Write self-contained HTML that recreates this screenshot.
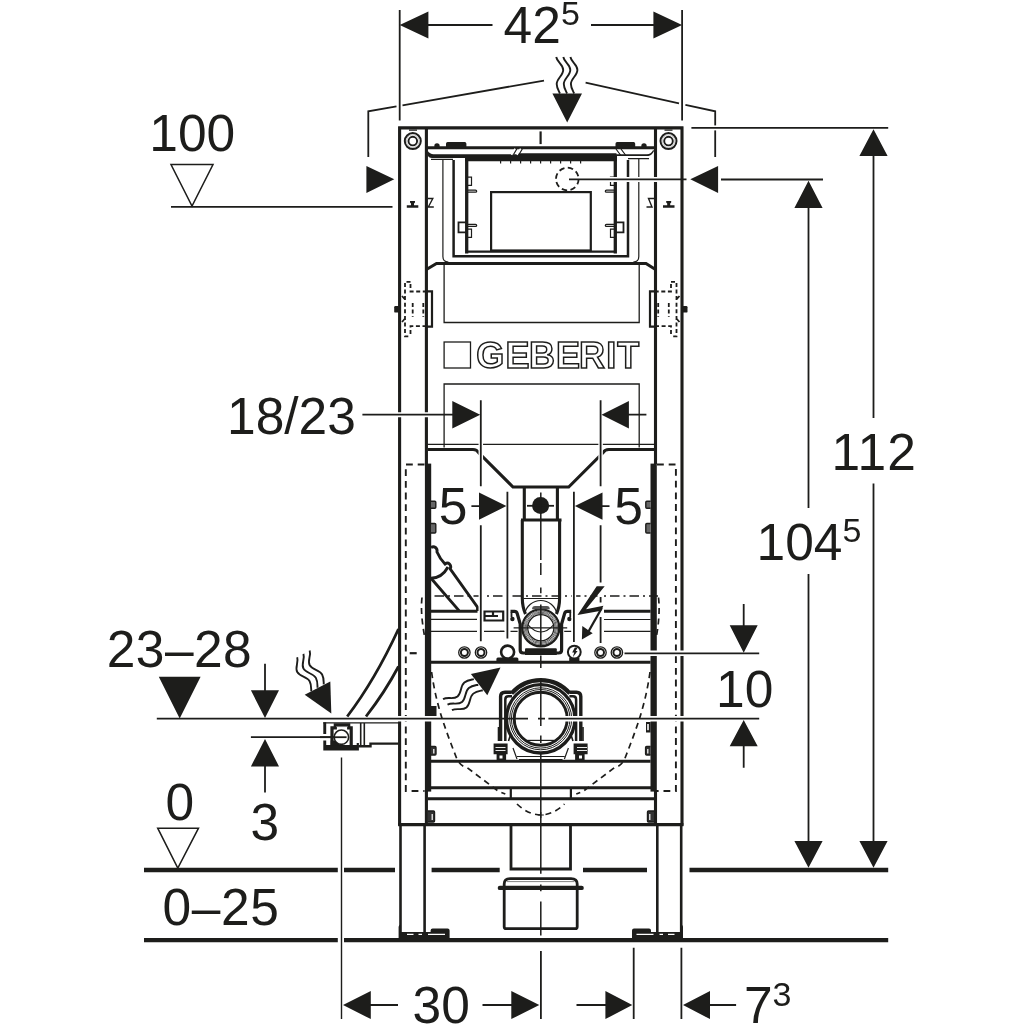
<!DOCTYPE html>
<html>
<head>
<meta charset="utf-8">
<title>Geberit Duofix dimension drawing</title>
<style>
html,body{margin:0;padding:0;background:#fff;}
body{width:1024px;height:1024px;overflow:hidden;}
svg{display:block;}
text{font-family:"Liberation Sans",sans-serif;fill:#1d1d1b;}
.t{font-size:51.5px;}
.s{font-size:34px;}
.k{fill:#1d1d1b;stroke:none;}
.l{stroke:#1d1d1b;fill:none;stroke-width:1.8;}
.n{stroke:#1d1d1b;fill:none;stroke-width:1.2;}
.m{stroke:#1d1d1b;fill:none;stroke-width:2.2;}
.h{stroke:#1d1d1b;fill:none;stroke-width:3.1;}
.w{stroke:#1d1d1b;fill:#fff;stroke-width:1.6;}
.d{stroke:#1d1d1b;fill:none;stroke-width:1.8;stroke-dasharray:5 3.5;}
.wh{stroke:#fff;fill:none;stroke-width:5;}
</style>
</head>
<body>
<svg width="1024" height="1024" viewBox="0 0 1024 1024">
<rect width="1024" height="1024" fill="#fff"/>
<defs><mask id="full" maskUnits="userSpaceOnUse" x="0" y="0" width="1024" height="1024"><rect width="1024" height="1024" fill="#fff"/></mask></defs>
<g mask="url(#full)">

<!-- ===== DIMENSIONS : TOP 42.5 ===== -->
<g id="dim-top">
<path class="l" d="M399.7 10V120.5M682.1 10V120.5M428 25H492.5M591 25H654.5"/>
<path class="k" d="M399.7 25L428.400 11.400V38.600ZM682.100 25L653.400 11.400V38.600Z"/>
<text class="t" x="503.500" y="42.700">42</text>
<text class="s" x="561" y="25.400">5</text>
</g>

<!-- ===== TOP ROOF BRACKET + HEAT ARROW ===== -->
<g id="roof">
<path class="l" d="M368.300 157V111.300L396.500 106.400M402.500 105.300L544 80.600M585.600 82.600L679 103.300M685.400 104.800L715.200 111.300V157"/>
<path class="k" d="M366.400 165.900V192.900L394.300 179.300ZM718.100 165.900V192.900L690.300 179.300ZM552.400 93.500H582L567.200 122.600Z"/>
<path class="l" d="M556.200 57c1 5.500 7 7.500 7 13s-6.500 8.500-6.500 14c0 4 1.800 6.500 3.300 9.500M563.300 57c1 5.500 7 7.500 7 13s-6.500 8.500-6.500 14c0 4 1.800 6.500 3.300 9.500M570.400 57c1 5.500 7 7.500 7 13s-6.500 8.500-6.500 14c0 4 1.800 6.500 3.300 9.500" style="stroke-width:1.900"/>
</g>

<!-- ===== LEFT: 100 LEVEL ===== -->
<g id="lvl100">
<text class="t" x="149.300" y="150.900">100</text>
<path class="l" d="M171 164.500H213L192 206.200Z" style="stroke-width:1.500"/><path class="l" d="M171 206.800H392.500"/>
</g>

<!-- ===== RIGHT: 112 / 104.5 ===== -->
<g id="dim-right">
<path class="wh" d="M710 127.900H720"/>
<path class="l" d="M691.400 127.900H888.200M721 179.500H823M873.500 155V418M873.500 483.600V842M808.500 207V508M808.500 574V842"/>
<path class="k" d="M873.500 129.200L859.400 156H887.600ZM808.500 180.800L794.400 207.900H822.600ZM873.500 867.800L859.400 841H887.600ZM808.500 867.800L794.400 841H822.600Z"/>
<text class="t" x="831.500" y="469.700" letter-spacing="1.2">112</text>
<text class="t" x="756.500" y="559.700">104</text>
<text class="s" x="842.500" y="542.200">5</text>
</g>

<!-- ===== RIGHT: 10 ===== -->
<g id="dim10">
<path class="l" d="M743.700 604V626M743.700 746V767.700"/>
<path class="k" d="M743.700 652.700L729.700 625.200H757.700ZM743.700 720L729.700 746.200H757.700Z"/>
<text class="t" x="716" y="707.300">10</text>
</g>

<!-- ===== LEFT: 18/23 and 5 | 5 ===== -->
<g id="dim-mid">
<text class="t" x="227" y="433.500">18/23</text>
<text class="t" x="438.800" y="524.300">5</text>
<text class="t" x="614.200" y="524.300">5</text>
</g>

<!-- ===== LEFT: 23-28, 3, 0, 0-25 ===== -->
<g id="dim-left">
<text class="t" x="106.800" y="667.200" letter-spacing="0.4">23–28</text>
<path class="k" d="M158.800 676.800H200.600L179.700 718.400ZM265 718L250.900 690.300H279ZM265 739L250.900 766.400H279Z"/>
<path class="l" d="M265 663.800V691M265 766V792.500M250.900 737.200H342"/>
<text class="t" x="165.500" y="819.900">0</text>
<text class="t" x="250.500" y="840.100">3</text>
<path class="l" d="M157.700 828.200H198.500L177.800 868Z" style="stroke-width:1.500"/>
<text class="t" x="162.500" y="924.900" letter-spacing="0.6">0–25</text>
</g>

<!-- ===== BOTTOM: 30 / 7.3 ===== -->
<g id="dim-bottom">
<path class="l" d="M341.500 757.500V1019" style="stroke-width:1.400"/>
<path class="l" d="M540.900 951V1019M633.700 947.700V1019M681.400 947.700V1019M370 1005H398M482.500 1005H512M576.500 1005H606M709.500 1005H736.100"/>
<path class="k" d="M343 1005.100L370.800 991.100V1019.100ZM539.300 1005.100L511.300 991.100V1019.100ZM632.300 1005.100L605.400 991.100V1019.100ZM683 1005.100L710 991.100V1019.100Z"/>
<text class="t" x="412.500" y="1023.200">30</text>
<text class="t" x="744" y="1023.400">7</text>
<text class="s" x="772.500" y="1006.200">3</text>
</g>

<!-- ===== FLOOR LINES ===== -->
<g id="floor">
<path d="M144 870H337.800M344 870H395M431.600 870H499.700M583 870H647M689.500 870H888.200M144 940.200H337.800M344 940.200H888.200" stroke="#1d1d1b" stroke-width="4.300" fill="none"/>
</g>

<!-- ===== MAIN FRAME POSTS ===== -->
<g id="frame">
<path class="h" d="M399.600 126.500V825.800M682 126.500V825.800M398.200 127.900H683.400M426.400 128V464M655.500 128V464M426.400 790V825M655.500 790V825"/>
<rect class="k" x="424.900" y="463.600" width="6.300" height="328"/>
<rect class="k" x="650.500" y="463.600" width="6.300" height="328"/>
<path class="h" d="M431 662.300H650.600M431 761.300H650.600M428 787.800H654M428 798.800H654M398.200 824.600H683.400"/>
<path class="m" d="M510.800 788V798.500M570.900 788V798.500"/>
<!-- clips on bars -->
<path fill="#666" stroke="#1d1d1b" stroke-width="1.400" d="M431 501.200h3.800q1 0 1 1v5q0 1-1 1h-3.800M431 523.500h3.800q1 0 1 1v7.500q0 1-1 1h-3.800M650.600 501.200h-3.800q-1 0-1 1v5q0 1 1 1h3.800M650.600 523.500h-3.800q-1 0-1 1v7.500q0 1 1 1h3.800"/>
<path class="k" d="M431 706h5.500v10h-5.500zM650.600 722h-4.600v10.400h4.600z"/>
<rect x="647.200" y="724" width="1.600" height="6.200" fill="#fff"/>
<path fill="#333" stroke="#1d1d1b" stroke-width="1.400" d="M431 746.500h4q1 0 1 1v6.500q0 1-1 1h-4M650.600 746.500h-4q-1 0-1 1v6.500q0 1 1 1h4M428 811h5.500q1 0 1 1v9q0 1-1 1h-5.500M654 811h-5.500q-1 0-1 1v9q0 1 1 1h5.500"/>
<path d="M433.800 749v4.500M647.800 749v4.500M432.200 814v6M649.800 814v6" stroke="#fff" stroke-width="1.200" fill="none"/>
<!-- legs -->
<path class="m" d="M400.500 825V937M424.600 825V937M657.300 825V937M681.200 825V937" style="stroke-width:2.600"/>
<path class="k" d="M398.600 927c0-2 2-2 2-4v9h30v-1.500q0-2 2-2h15q2 0 2 2v8.500h-51zM683 927c0-2-2-2-2-4v9h-30v-1.500q0-2-2-2h-15q-2 0-2 2v8.500h51z"/>
<path d="M407 934.300h6.500M418.500 934.300h3.500M428 934.300h17M674.500 934.300h-6.500M663 934.300h-3.500M653.500 934.300h-17" stroke="#fff" stroke-width="1.300" fill="none"/>
</g>

<!-- ===== TOP: MOUNTING HOLES, ACTUATOR OPENING ===== -->
<g id="tophead">
<circle class="l" cx="412.800" cy="141.100" r="8" style="stroke-width:2"/>
<circle class="l" cx="412.800" cy="141.100" r="4.300" style="stroke-width:1.900"/>
<circle class="l" cx="668.500" cy="141.100" r="8" style="stroke-width:2"/>
<circle class="l" cx="668.500" cy="141.100" r="4.300" style="stroke-width:1.900"/>
<path d="M412.800 134.800a6.300 6.300 0 1 0 0.010 0M668.500 134.800a6.300 6.300 0 1 0 0.010 0" stroke="#999" stroke-width="0.600" fill="none"/>
<path class="m" d="M409 130.200h8M664.500 130.200h8" style="stroke-width:1.200"/>
<path class="h" d="M427 147.700H654"/>
<path class="k" d="M446 147.700v-4q0-1.600 1.600-1.600h17.200q1.600 0 1.600 1.600v4zM615.500 147.700v-4q0-1.600 1.600-1.600h16.500q1.600 0 1.600 1.600v4z"/>
<circle class="k" cx="437" cy="146" r="2.700"/>
<circle class="k" cx="644" cy="146" r="2.700"/>
<path class="m" d="M540.600 131.400V144.100"/>
<!-- thick rail -->
<path class="k" d="M427.500 150.500q2.500 3.800 6 3.800H617v7H465v-3.200H432q-3.500 0-4.500-3z"/>
<path class="k" d="M654.300 150.500q-2.500 5-6 5.500H617v-1.700h30q4 0 6-4z"/>
<path class="k" d="M518.500 153.300H616.500V156H516.800z"/>
<path class="n" d="M431 159.300H453M628 158.600H649"/>
<path d="M511.500 154.800l3.600-6.200M517 154.800l3.600-6.200" stroke="#fff" stroke-width="1.500" fill="none"/>
<path class="n" d="M513.500 154.500l3.300-5.500M519 154.500l3.300-5.500M616 149l4.500 6M621 149l4.500 6"/>
<!-- teeth -->
<path class="l" d="M500.600 161v2.600M510.600 161v2.600M520.600 161v2.600M530.600 161v2.600M540.600 161v2.600M550.600 161v2.600M560.600 161v2.600M570.600 161v2.600M580.600 161v2.600" style="stroke-width:1.200"/>
<!-- nested frames -->
<path class="n" d="M442.900 159V256.500q0 5.500 5.500 5.500M638.800 159V256.500q0 5.500-5.500 5.500"/>
<path class="m" d="M453.600 160V256.200H628V160" style="stroke-width:2.500"/>
<path class="h" d="M466.700 160.500V253.500M615.300 160.500V253.500" style="stroke-width:3.300"/>
<path class="m" d="M466.700 251.700H615.300"/>
<rect class="m" x="491.100" y="192.100" width="99.700" height="58.400"/>
<!-- clips inside -->
<path class="n" d="M468 177.200h3.500v8.200h-3.500M468 190.200h7.500q1.200 0 1.200 1t-1.200 1h-7.500M468 224.400h7.500q1.200 0 1.200 1t-1.200 1h-7.500M468 229.200h3.500v8.200h-3.500"/>
<path class="m" d="M466 222.300h-7.500v10h7.500" style="stroke-width:1.800"/>
<path class="n" d="M614 177.200h-3.500v8.200h3.500M614 190.200h-7.500q-1.200 0-1.200 1t1.200 1h7.500M614 224.400h-7.500q-1.200 0-1.200 1t1.200 1h7.500M614 229.200h-3.500v8.200h3.500"/>
<path class="m" d="M616 222.300h7.500v10h-7.500" style="stroke-width:1.800"/>
<!-- marks on posts -->
<path class="k" d="M406.800 205.300h11.500v2.500h-11.500zM410 201h5v1.600l-1 1v1.800h-3v-1.800l-1-1z"/>
<path class="k" d="M663 205.300h11.500v2.500h-11.500zM666.200 201h5v1.600l-1 1v1.800h-3v-1.800l-1-1z"/>
<path class="n" d="M427.800 198.500h5l-4.500 8.500h5.500M654 198.500h-5.500l3.500 8.500h-5.500" style="stroke-width:1.400"/>
<!-- dashed circle + leader -->
<circle class="d" cx="567.300" cy="179" r="11.300" style="stroke-dasharray:5.500 3.400"/>
</g>

<!-- ===== CISTERN BODY ===== -->
<g id="cistern">
<path class="h" d="M426.400 269.500L436.500 263.500H646L655.500 269.500"/>
<path class="n" d="M444.100 264V322.500H639.200V264" style="stroke-width:1.300"/>
<rect class="n" x="444.100" y="342" width="26.400" height="26" style="stroke-width:1.300"/>
<text x="476.200 505.600 529 556 579 606.300 617.300" y="367.700" font-size="36" font-weight="bold" style="fill:none;stroke:#1d1d1b;stroke-width:1.500px;">GEBERIT</text>
<path class="n" d="M444.100 447.500V384H639.200V447.500M427.500 444.300H654.500" style="stroke-width:1.300"/>
<!-- hinges -->
<path class="m" d="M427 291.300h5v35.400h-5M655 291.300h-5v35.400h5"/>
<rect class="k" x="394.200" y="306" width="5" height="6.600" rx="1.200"/>
<rect class="k" x="682.500" y="306" width="5" height="6.600" rx="1.200"/>
<path class="d" d="M410.500 281.800h-5.500v54.600h5.500M410.500 284v7.500h15M410.500 334v-7.800h15M412.700 303v14M423.300 303v14M402 296l3.500 4M402 322l3.500-4" style="stroke-dasharray:4 2.600"/>
<path class="d" d="M671 281.800h5.500v54.600h-5.500M671 284v7.500h-15M671 334v-7.800h-15M668.800 303v14M658.200 303v14M679.500 296l-3.500 4M679.500 322l-3.500-4" style="stroke-dasharray:4 2.600"/>
<!-- funnel -->
<path class="h" d="M428 449.500H473Q476.800 449.500 478.500 452.500L513 487H568.700L603.200 452.500Q605 449.500 608.800 449.500H654"/>
<!-- flush valve box -->
<path class="h" d="M524.300 487V520M557.400 487V520M521 520H561.500"/>
<circle class="k" cx="540.600" cy="505.600" r="8.500"/>
<path class="l" d="M527 505.800H554"/>
</g>

<!-- ===== LOWER SECTION: dashed outlines ===== -->
<g id="dashed">
<path class="d" d="M424.500 464.500H405.800V791H424.500M657 464.500H675.900V791H657" style="stroke-width:1.900;stroke-dasharray:6.800 4.900"/>
<path class="l" d="M409.700 653.200H416.700" style="stroke-width:2.200"/>
<!-- bowl outline -->
<path class="d" d="M434.500 596H658" style="stroke-width:1.700;stroke-dasharray:9.500 4 2 4"/>
<path class="d" d="M422 597.500C420.500 610 422.500 625 424.500 636M431.600 672C434 690 438 705 441 715C445 728 451 744 456.700 758.400Q460 766 467 767.500L498.400 791.300L505.300 794M517 804Q528 814.500 540.800 815Q553.500 814.500 564.500 804M658.500 597.500C660 610 658.500 625 656.500 636M650 672C647.600 690 643.600 705 640.600 715C636.600 728 630.600 744 624.900 758.400Q621.600 766 614.600 767.500L583.200 791.300L576.300 794" style="stroke-width:1.700;stroke-dasharray:6 4.500"/>
<path class="n" d="M537.800 815h6M540.800 812v6"/>
</g>

<!-- ===== HOSE left of frame + connection box ===== -->
<g id="hose">
<path class="h" d="M347.200 716.500Q375 680 398.500 629M366 716.500Q385 692 398.500 666.500" style="stroke-width:2.800"/>
<path class="k" d="M323.300 722.200h2.900v11.800h-2.900zM323.300 740.500h2.900v4.600h30.500v-2h2.200v7.300h-35.600z"/>
<path class="n" d="M323.300 722.900H399" style="stroke-width:1.300"/>
<path d="M332 745V727.800H335.300V724.800H348.700V727.800H351.200V745" stroke="#1d1d1b" stroke-width="3.200" fill="none"/>
<path class="n" d="M336 726.600H348" style="stroke-width:0.800;stroke:#777"/>
<path class="k" d="M330.700 740.500h5.500q2 4 6 5h-11.500z"/>
<circle class="w" cx="341.400" cy="737.200" r="7.200" style="stroke-width:1.600"/>
<path class="l" d="M360.700 723V745M364.300 723V745" style="stroke-width:1.600"/>
<path class="m" d="M358.500 746.200H370.500V743.600H398.500" style="stroke-width:2.400"/>
</g>

<!-- ===== water supply elbow (inside left) ===== -->
<g id="elbow">
<path class="m" d="M431 547.500q2.500-1.500 4.500 0t1.500 4.500q3 7 8 12q2.500-2 4.500 0t0.800 5L477.500 607.200V611M431 578.300L459 610.600M431 578.300Q442 578 448 567" style="stroke-width:2.900"/>
<path class="h" d="M431 611.300H477.500"/>
<path class="n" d="M431 619.400H477M431 631.400H477M484 631.400H504M604 619.500H650.600M604 631.400H650.600"/>
<path class="h" d="M604 611.300H650.600"/>
<path class="m" d="M484.500 611.500H503.200V620.500H484.500ZM493 611.500v4.500M484.500 616H498" style="stroke-width:2.200"/>
</g>

<!-- ===== FLUSH PIPE + CLAMP ===== -->
<g id="flushpipe">
<path class="h" d="M522.300 520V598Q522.300 607 525.500 614M559.600 520V598Q559.600 607 556.400 614"/>
<path class="n" d="M523.500 598.500H558.500M524.700 613.800A16.400 16.400 0 0 1 556.900 613.800"/>
<circle cx="540.800" cy="627.800" r="18.500" fill="#fff" stroke="#1d1d1b" stroke-width="2.300"/>
<g fill="none" stroke="#3a3a3a" stroke-width="0.800">
<circle cx="540.800" cy="627.800" r="16.800"/><circle cx="540.800" cy="627.800" r="15.700"/><circle cx="540.800" cy="627.800" r="14.600"/>
</g>
<circle class="l" cx="540.800" cy="627.800" r="13.100" style="stroke-width:1.300"/>
<path class="n" d="M527.800 624.600Q540.800 639.400 553.800 624.600" style="stroke-width:1.100"/>
<path d="M532 609.300q0-3.400 3-3.400h11.800q3 0 3 3.400z" fill="#555"/>
<!-- clamp -->
<path class="h" d="M510.500 611.300H514.500Q516.500 611.300 517.200 613.500L520.200 624V650Q520.200 653 523.200 653H558.600Q561.600 653 561.600 650V624L564.600 613.500Q565.300 611.300 567.300 611.300H571.300" style="stroke-width:3.200"/>
<path class="k" d="M525 649.300q0-1 1-1h29.800q1 0 1 1v5.600h-31.800z"/>
<path class="m" d="M511.500 612.500V617M570.300 612.500V617" style="stroke-width:1.800"/>
<circle class="k" cx="512.400" cy="619" r="2.200"/>
<circle class="k" cx="569.400" cy="619" r="2.200"/>
<path class="n" d="M513.600 627.900H567.200M510.500 631.300H517.600M564.200 631.300H571.300M500 631.300H504.500"/>
</g>

<!-- ===== small connectors row ===== -->
<g id="row">
<g class="l" style="stroke-width:1.300">
<circle cx="464.400" cy="652.500" r="5.700"/><circle cx="481" cy="652.500" r="5.700"/><circle cx="600.500" cy="652.500" r="5.700"/><circle cx="616.900" cy="652.500" r="5.700"/>
</g>
<g class="l" style="stroke-width:2">
<circle cx="464.400" cy="652.500" r="3.500"/><circle cx="481" cy="652.500" r="3.500"/><circle cx="600.500" cy="652.500" r="3.500"/><circle cx="616.900" cy="652.500" r="3.500"/>
</g>
<path class="k" d="M496.400 662v-3q0-1.500 1.500-1.500h19q1.500 0 1.500 1.500v3zM569.200 662v-4.500h10.200v4.500z"/>
<circle class="w" cx="507.600" cy="652.100" r="6.500" style="stroke-width:2.600"/>
<circle class="w" cx="574.300" cy="652.100" r="6.400" style="stroke-width:2"/>
<path class="k" d="M574.800 647.600h3l-2.200 3.400h2l-4.800 6.200l1.400-4.600h-2z"/>
</g>

<!-- ===== DRAIN + CLAMP ===== -->
<g id="drain">
<!-- clamp body -->
<path class="h" d="M511.500 692.200H505Q500.600 692.200 500.600 696.600V741M569.900 692.200H576.400Q580.800 692.200 580.800 696.600V741" style="stroke-width:3.400"/>
<path class="m" d="M512 696.300H508.500Q505.300 696.300 505.300 699.500V741M569.400 696.300H572.900Q576.100 696.300 576.100 699.500V741" style="stroke-width:2.500"/>
<path class="m" d="M508.500 741L513 727M573 741L568.400 727M498.500 727V741M583 727V741" style="stroke-width:1.600"/>
<path class="k" d="M493.600 743.600h14v10.700h-1.500v6.500h-9.500v-6.500h-3zM587.600 743.600h-14v10.700h1.500v6.500h9.500v-6.500h3z"/>
<path d="M495.500 747.500h10M495.500 750.500h10M577 747.500h10M577 750.500h10" stroke="#fff" stroke-width="0.900" fill="none"/>
<rect x="499.500" y="755.500" width="3" height="3" fill="#fff"/><rect x="579" y="755.500" width="3" height="3" fill="#fff"/>
<path class="n" d="M513 748l4 11M568.400 748l-4 11M517 756.500H564.500M519 759.500H562.500"/>
<!-- top cap band -->
<path d="M511.500 693.500A38.500 38.500 0 0 1 569.900 693.500" stroke="#1d1d1b" stroke-width="4.200" fill="none"/>
<circle cx="540.700" cy="718.800" r="34.200" fill="#fff" stroke="#1d1d1b" stroke-width="3.300"/>
<circle class="n" cx="540.700" cy="718.800" r="31" style="stroke-width:1"/>
<circle class="n" cx="540.700" cy="718.800" r="29.300" style="stroke-width:1"/>
<circle class="h" cx="540.700" cy="718.800" r="26.500" style="stroke-width:3"/>
<path class="n" d="M525.800 740.400H555.600"/>
</g>

<!-- ===== PIPES BELOW FRAME ===== -->
<g id="below">
<path class="h" d="M511 826V869H570.500V826" style="stroke-width:2.800"/>
<path class="h" d="M504.200 888V926.700Q504.200 928.700 506.200 928.700H575.200Q577.200 928.700 577.200 926.700V888M504.200 888V884Q504.200 878.600 510.500 878.600H571Q577.200 878.600 577.200 884V888" style="stroke-width:2.800;stroke-linejoin:round"/>
<path d="M507 881.600H574.500" stroke="#777" stroke-width="0.900" fill="none"/>
<path d="M499.900 887.900H581.600" stroke="#1d1d1b" stroke-width="4.400" stroke-linecap="round" fill="none"/>
</g>

<!-- ===== HEAT/WATER ARROWS (wavy) ===== -->
<g id="wavyarrows">
<g transform="translate(300 655.750) rotate(-28.500) scale(-1 1)">
<path class="l" d="M-11 0c1 5.500 7 7.500 7 13s-6.500 8.500-6.500 14c0 4 1.800 6.500 3.300 9.500M-3.900 0c1 5.500 7 7.500 7 13s-6.500 8.500-6.500 14c0 4 1.800 6.500 3.300 9.500M3.200 0c1 5.500 7 7.500 7 13s-6.500 8.500-6.500 14c0 4 1.800 6.500 3.300 9.500" style="stroke-width:1.900"/>
</g>
<path class="k" d="M331.300 713.400L304.700 694.700L330.300 681.400Z"/>
<g transform="translate(449.950 707.700) rotate(-128.900) scale(-1 1)">
<path class="l" d="M-11 0c1 5.500 7 7.500 7 13s-6.500 8.500-6.500 14c0 4 1.800 6.500 3.300 9.500M-3.900 0c1 5.500 7 7.500 7 13s-6.500 8.500-6.500 14c0 4 1.800 6.500 3.300 9.500M3.200 0c1 5.500 7 7.500 7 13s-6.500 8.500-6.500 14c0 4 1.800 6.500 3.300 9.500" style="stroke-width:1.900"/>
</g>
<path class="k" d="M500.500 667.400L470.900 674.100L487.300 695.200Z"/>
</g>

<!-- ===== INTERNAL DIMENSION LINES (with white halos at crossings) ===== -->
<g id="innerdims">
<path class="wh" d="M480.800 440V462M600.600 440V462M480.800 593V634M600.600 606V634M507.400 593V634M573.900 593V634" style="stroke-width:4.500"/>
<path class="l" d="M480.800 400.200V486.300M480.800 525.300V641.300M600.600 400.200V486.300M600.600 525.300V582.500M600.600 596.600V602.400M600.600 617V643M507.400 491.700V638.500M573.900 491.700V642"/>
<!-- 18/23 arrows -->
<path class="wh" d="M392 414.700H434" style="stroke-width:5"/>
<path class="l" d="M362.400 414.700H453M628 414.700H646.400"/>
<path class="k" d="M480.200 414.700L452.300 401V428.400ZM601.500 414.700L628.900 401V428.400Z"/>
<!-- 5 | 5 arrows -->
<path class="l" d="M471.400 506.100H480M602 506.100H609.500"/>
<path class="k" d="M506.400 506.100L479 492.500V519.800ZM574.900 506.100L602.500 492.500V519.800Z"/>
<!-- centre line -->
<path class="l" d="M540.800 492.400V560M540.800 563V575M540.800 587.500V593.200M540.800 604.600V646.800M540.800 655.600V668M540.800 678V726M540.800 735.500V743M540.800 752.700V873.800M540.800 884.600V891.300M540.800 901.500V935.400" style="stroke-width:1.500"/>
<!-- 100 level leader / actuator leader -->
<path class="wh" d="M609 179.400H660" style="stroke-width:5"/>
<path class="l" d="M569 179.400H686.500"/>
<!-- 23-28 line, 10 lines -->
<path class="wh" d="M394 718.700H436M560 718.700H588M646 718.700H687M646 653.300H687" style="stroke-width:5.500"/>
<path class="l" d="M320 737.200H346.600"/>
<path class="l" d="M156.800 718.700H528M538 718.700H545M548.400 718.700H759.200M624.500 653.300H759.200"/>
</g>
<!-- ===== LIGHTNING BOLT ===== -->
<g id="bolt">
<path d="M600.500 583V597M600.500 603V617" stroke="#fff" stroke-width="6" fill="none"/>
<path class="k" d="M596.700 586.200H604.700L586 609.200L603.400 605.800L601.200 610.800L577.500 615Z"/>
<path class="m" d="M601.800 608L588.500 631.500" style="stroke-width:2.300"/>
<path class="k" d="M581.900 639.500L582.300 625.900L592.700 633.300Z"/>
</g>

</g>
</svg>
</body>
</html>
